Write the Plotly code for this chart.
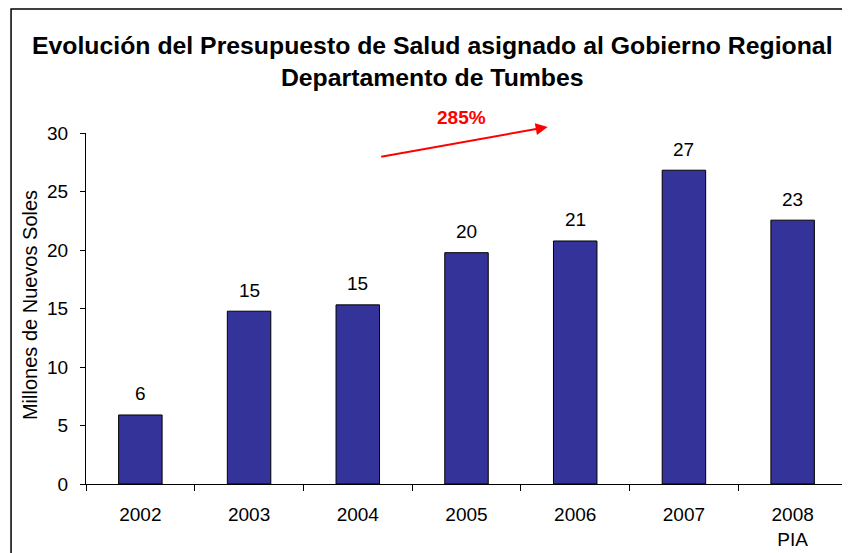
import plotly.graph_objects as go

years = ["2002", "2003", "2004", "2005", "2006", "2007", "2008<br>PIA"]
values = [5.9, 14.77, 15.31, 19.77, 20.77, 26.82, 22.55]
labels = ["6", "15", "15", "20", "21", "27", "23"]
yticks = [0, 5, 10, 15, 20, 25, 30]

title_text = ("<b>Evolución del Presupuesto de Salud asignado al Gobierno Regional<br>"
              "Departamento de Tumbes</b>")
y_title = "Millones de Nuevos Soles"
growth = "285%"

FONT = "Liberation Sans, Arial, sans-serif"
OFF = 8  # page body margin
W, H = 850 - OFF, 553 - OFF
# plot area in screen pixels: x 86..847.5, y 133..484
L, R, T, B = 86 - OFF, 850 - 847.5, 133 - OFF, 553 - 484
pw, ph = W - L - R, H - T - B

def px(x):
    return (x - OFF - L) / pw

def py(y):
    return (H - B - (y - OFF)) / ph

fig = go.Figure()
fig.add_trace(go.Bar(
    x=years, y=values, width=0.4,
    marker=dict(color="#333399", line=dict(color="#000000", width=1)),
    hoverinfo="skip",
))

annotations = []
for i, (v, t) in enumerate(zip(values, labels)):
    annotations.append(dict(x=i, y=v, xref="x", yref="y", text=t,
                            showarrow=False, yshift=21,
                            font=dict(family=FONT, size=19, color="#000000")))

annotations.append(dict(x=px(30), y=py(305), xref="paper", yref="paper",
                        xanchor="center", yanchor="middle",
                        text=y_title, textangle=-90, showarrow=False,
                        font=dict(family=FONT, size=20, color="#000000")))

annotations.append(dict(x=px(548), y=py(127), xref="paper", yref="paper",
                        ax=380 - 548, ay=157 - 127, axref="pixel", ayref="pixel",
                        text="", showarrow=True, arrowhead=2, arrowsize=1.2,
                        arrowwidth=2, arrowcolor="#ff0000", standoff=0))
annotations.append(dict(x=px(462), y=py(118), xref="paper", yref="paper",
                        xanchor="center", yanchor="middle",
                        text="<b>" + growth + "</b>", showarrow=False,
                        font=dict(family=FONT, size=19, color="#ff0000")))

annotations.append(dict(x=px(433), y=py(61), xref="paper", yref="paper",
                        xanchor="center", yanchor="middle",
                        text=title_text, showarrow=False,
                        font=dict(family=FONT, size=24.8, color="#000000")))

fig.update_layout(
    width=W, height=H,
    margin=dict(l=L, r=R, t=T, b=B, pad=0),
    paper_bgcolor="white", plot_bgcolor="white",
    showlegend=False,
    annotations=annotations,
    shapes=[dict(type="rect", xref="paper", yref="paper",
                 x0=px(11), x1=px(856), y0=py(560), y1=py(9),
                 line=dict(color="#000000", width=1.5))],
    xaxis=dict(
        type="category", range=[-0.5, len(years) - 0.5],
        showline=True, linecolor="#000000", linewidth=1,
        ticks="outside", ticklen=6, tickcolor="#000000", tickson="boundaries",
        tickfont=dict(family=FONT, size=19, color="#000000"), tickangle=0,
        ticklabelstandoff=13, showgrid=False, zeroline=False,
    ),
    yaxis=dict(
        range=[0, 30], tickvals=yticks, showline=True, linecolor="#000000",
        linewidth=1, ticks="outside", ticklen=5, tickcolor="#000000",
        tickfont=dict(family=FONT, size=19, color="#000000"),
        ticklabelstandoff=8, showgrid=False, zeroline=False,
    ),
)

fig.write_html("out.html")
